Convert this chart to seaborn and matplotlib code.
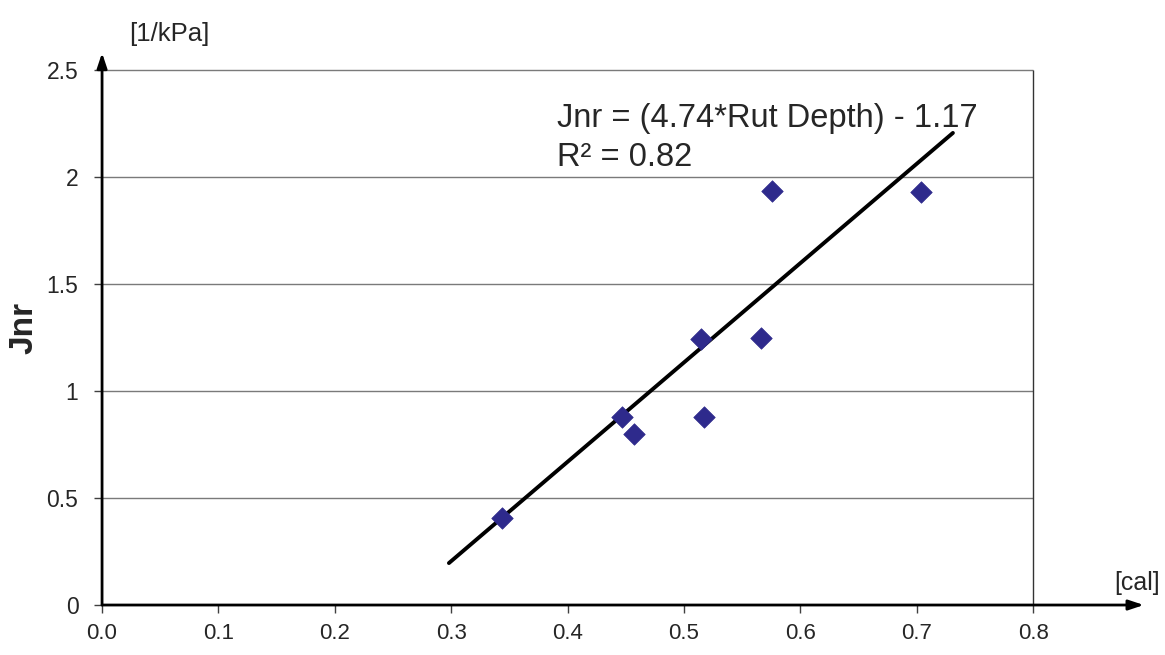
import matplotlib
matplotlib.use("Agg")
import matplotlib.pyplot as plt
import pandas as pd
import seaborn as sns

# measured points (rut depth vs Jnr)
rut_depth = [0.344, 0.447, 0.457, 0.515, 0.517, 0.566, 0.576, 0.704]
jnr = [0.405, 0.880, 0.799, 1.243, 0.880, 1.246, 1.936, 1.930]

# trend line as drawn on the chart (end points)
fit_x = [0.298, 0.731]
fit_y = [0.196, 2.206]
fit_label = "Jnr = (4.74*Rut Depth) - 1.17\nR² = 0.82"

x_ticks = [0.0, 0.1, 0.2, 0.3, 0.4, 0.5, 0.6, 0.7, 0.8]
x_tick_labels = ["0.0", "0.1", "0.2", "0.3", "0.4", "0.5", "0.6", "0.7", "0.8"]
y_ticks = [0, 0.5, 1, 1.5, 2, 2.5]
y_tick_labels = ["0", "0.5", "1", "1.5", "2", "2.5"]

df = pd.DataFrame({"rut": rut_depth, "jnr": jnr})
fit = pd.DataFrame({"x": fit_x, "y": fit_y})

sns.set_style("white")
plt.rcParams["font.family"] = ["Liberation Sans", "DejaVu Sans"]

fig = plt.figure(figsize=(11.65, 6.55), dpi=100)
ax = fig.add_axes([0.0876, 0.0763, 0.8992, 0.8495])

xmax, ymax = 0.9, 2.6
ax.set_xlim(0, xmax)
ax.set_ylim(0, ymax)

# grid lines and right border at 0.8
ax.hlines(y_ticks[1:], 0, 0.8, color="#7a7a7a", lw=1, zorder=1)
ax.vlines(0.8, 0, 2.5, color="#333333", lw=1, zorder=1)

sns.lineplot(data=fit, x="x", y="y", color="black", lw=2.8, ax=ax, zorder=3)
sns.scatterplot(data=df, x="rut", y="jnr", marker="D", s=120, color="#2e2a8c",
                edgecolor="#2e2a8c", linewidth=0.5, ax=ax, zorder=4)

for side in ["top", "right", "left", "bottom"]:
    ax.spines[side].set_visible(False)

# axis arrows
arrow = dict(arrowstyle="-|>,head_length=0.9,head_width=0.3",
             color="black", lw=2, shrinkA=0, shrinkB=0)
ax.annotate("", xy=(0.895, 0), xytext=(0, 0), arrowprops=arrow,
            annotation_clip=False, zorder=5)
ax.annotate("", xy=(0, 2.58), xytext=(0, 0), arrowprops=arrow,
            annotation_clip=False, zorder=5)

ax.set_xticks(x_ticks)
ax.set_xticklabels(x_tick_labels, fontsize=16)
ax.set_yticks(y_ticks)
ax.set_yticklabels(y_tick_labels, fontsize=16.5)
ax.tick_params(axis="both", which="both", direction="out", length=6, width=1,
               color="#404040", bottom=True, left=True)
ax.tick_params(axis="x", pad=7)
ax.tick_params(axis="y", pad=11)

ax.set_xlabel("")
ax.set_ylabel("")
fig.text(24 / 1165, 1 - 328 / 655, "Jnr", fontsize=24, fontweight="bold",
         rotation=90, ha="center", va="center")

ax.text(0.023, 2.61, "[1/kPa]", fontsize=18.5, ha="left", va="bottom")
ax.text(0.870, 0.045, "[cal]", fontsize=18, ha="left", va="bottom")

ax.text(0.391, 2.182, fit_label, fontsize=23.5,
        ha="left", va="center", linespacing=1.32)

plt.savefig("out.png", dpi=100)
